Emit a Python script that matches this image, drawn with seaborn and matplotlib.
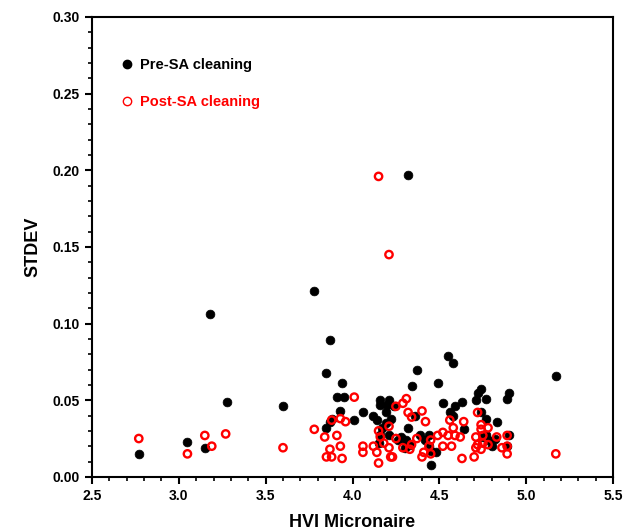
import matplotlib
matplotlib.use("Agg")
import matplotlib.pyplot as plt
from matplotlib.ticker import MultipleLocator
from matplotlib.lines import Line2D
import seaborn as sns
import pandas as pd

pre_x = [2.77, 3.05, 3.15, 3.18, 3.28, 3.60, 3.78, 3.87, 3.85, 3.94, 3.91, 3.95, 3.93,
         3.87, 3.85, 3.88, 4.01, 4.06, 4.16, 4.16, 4.12, 4.14, 4.19, 4.20, 4.21, 4.24,
         4.22, 4.19, 4.17, 4.16, 4.15, 4.21, 4.26, 4.28, 4.31, 4.33, 4.30, 4.32, 4.36,
         4.39, 4.42, 4.44, 4.44, 4.45, 4.48, 4.45, 4.32, 4.37, 4.34, 4.49, 4.55, 4.58,
         4.52, 4.56, 4.59, 4.63, 4.58, 4.64, 4.72, 4.74, 4.71, 4.77, 4.74, 4.77, 4.83,
         4.75, 4.77, 4.82, 4.80, 4.78, 4.90, 4.89, 4.90, 4.89, 5.17]
pre_y = [0.015, 0.023, 0.019, 0.106, 0.049, 0.046, 0.121, 0.089, 0.068, 0.061, 0.052, 0.052, 0.043,
         0.036, 0.032, 0.038, 0.037, 0.042, 0.050, 0.047, 0.040, 0.037, 0.042, 0.047, 0.050, 0.046,
         0.038, 0.035, 0.032, 0.027, 0.022, 0.027, 0.024, 0.026, 0.024, 0.021, 0.019, 0.032, 0.040,
         0.027, 0.024, 0.027, 0.020, 0.017, 0.016, 0.008, 0.197, 0.070, 0.059, 0.061, 0.079, 0.074,
         0.048, 0.042, 0.046, 0.049, 0.040, 0.031, 0.055, 0.057, 0.050, 0.051, 0.042, 0.038, 0.036,
         0.026, 0.027, 0.025, 0.020, 0.024, 0.055, 0.051, 0.027, 0.020, 0.066]

post_x = [2.77, 3.05, 3.15, 3.19, 3.27, 3.60, 3.78, 3.84, 3.88, 3.93, 3.96, 4.01, 3.91,
          3.93, 3.87, 3.85, 3.88, 3.94, 4.06, 4.06, 4.12, 4.14, 4.15, 4.15, 4.16, 4.18,
          4.21, 4.22, 4.23, 4.21, 4.25, 4.29, 4.31, 4.32, 4.25, 4.29, 4.40, 4.34, 4.42,
          4.37, 4.45, 4.44, 4.34, 4.33, 4.41, 4.45, 4.40, 4.49, 4.52, 4.55, 4.56, 4.58,
          4.59, 4.62, 4.64, 4.52, 4.57, 4.63, 4.70, 4.72, 4.74, 4.74, 4.78, 4.71, 4.75,
          4.83, 4.72, 4.75, 4.78, 4.71, 4.74, 4.86, 4.89, 4.89, 4.89, 5.17, 4.15, 4.21]
post_y = [0.025, 0.015, 0.027, 0.020, 0.028, 0.019, 0.031, 0.026, 0.037, 0.038, 0.036, 0.052, 0.027,
          0.020, 0.018, 0.013, 0.013, 0.012, 0.020, 0.016, 0.020, 0.016, 0.009, 0.030, 0.026, 0.022,
          0.019, 0.013, 0.013, 0.033, 0.046, 0.048, 0.051, 0.042, 0.025, 0.019, 0.043, 0.039, 0.036,
          0.025, 0.024, 0.020, 0.021, 0.018, 0.016, 0.015, 0.013, 0.027, 0.029, 0.027, 0.037, 0.032,
          0.027, 0.026, 0.036, 0.020, 0.020, 0.012, 0.013, 0.042, 0.034, 0.031, 0.032, 0.026, 0.027,
          0.026, 0.021, 0.022, 0.021, 0.019, 0.018, 0.019, 0.027, 0.020, 0.015, 0.015, 0.196, 0.145]

series_labels = ["Pre-SA cleaning", "Post-SA cleaning"]
x_label = "HVI Micronaire"
y_label = "STDEV"

sns.set_theme(style="ticks")
plt.rcParams["font.family"] = ["Liberation Sans", "DejaVu Sans"]
plt.rcParams["font.weight"] = "bold"
plt.rcParams["text.color"] = "black"
plt.rcParams["axes.labelcolor"] = "black"

pre_df = pd.DataFrame({"x": pre_x, "y": pre_y})
post_df = pd.DataFrame({"x": post_x, "y": post_y})

fig = plt.figure(figsize=(6.25, 5.31), dpi=100)
ax = fig.add_axes([0.147, 0.102, 0.834, 0.866])

sns.scatterplot(data=pre_df, x="x", y="y", ax=ax, marker="o", s=40,
                color="black", edgecolor="black", linewidth=0.5, zorder=2)
sns.scatterplot(data=post_df, x="x", y="y", ax=ax, marker="o", s=28,
                facecolor="none", edgecolor="red", linewidth=1.7, zorder=3)

ax.set_xlim(2.5, 5.5)
ax.set_ylim(0.0, 0.30)
ax.xaxis.set_major_locator(MultipleLocator(0.5))
ax.xaxis.set_minor_locator(MultipleLocator(0.1))
ax.yaxis.set_major_locator(MultipleLocator(0.05))
ax.yaxis.set_minor_locator(MultipleLocator(0.01))
ax.xaxis.set_major_formatter(matplotlib.ticker.FormatStrFormatter("%.1f"))
ax.yaxis.set_major_formatter(matplotlib.ticker.FormatStrFormatter("%.2f"))

for s in ax.spines.values():
    s.set_linewidth(1.5)
    s.set_color("black")
    s.set_visible(True)
ax.tick_params(which="major", direction="out", length=5, width=1.5, labelsize=10, colors="black")
ax.tick_params(which="minor", direction="out", length=3, width=1.2, colors="black")
ax.tick_params(top=False, right=False, which="both")
for lab in ax.get_xticklabels() + ax.get_yticklabels():
    lab.set_fontweight("bold")

ax.set_xlabel(x_label, fontsize=13, fontweight="bold", labelpad=8, color="black")
ax.set_ylabel(y_label, fontsize=13, fontweight="bold", labelpad=8, color="black")

handles = [
    Line2D([], [], linestyle="none", marker="o", markersize=6,
           markerfacecolor="black", markeredgecolor="black"),
    Line2D([], [], linestyle="none", marker="o", markersize=6,
           markerfacecolor="none", markeredgecolor="red", markeredgewidth=1.0),
]
leg = ax.legend(handles, series_labels, loc="upper left", bbox_to_anchor=(0.025, 0.94),
                frameon=False, prop={"weight": "bold", "size": 10.5},
                handletextpad=0.3, labelspacing=1.6, handlelength=1.2)
for txt, c in zip(leg.get_texts(), ["black", "red"]):
    txt.set_color(c)

fig.savefig("out.png", dpi=100)
